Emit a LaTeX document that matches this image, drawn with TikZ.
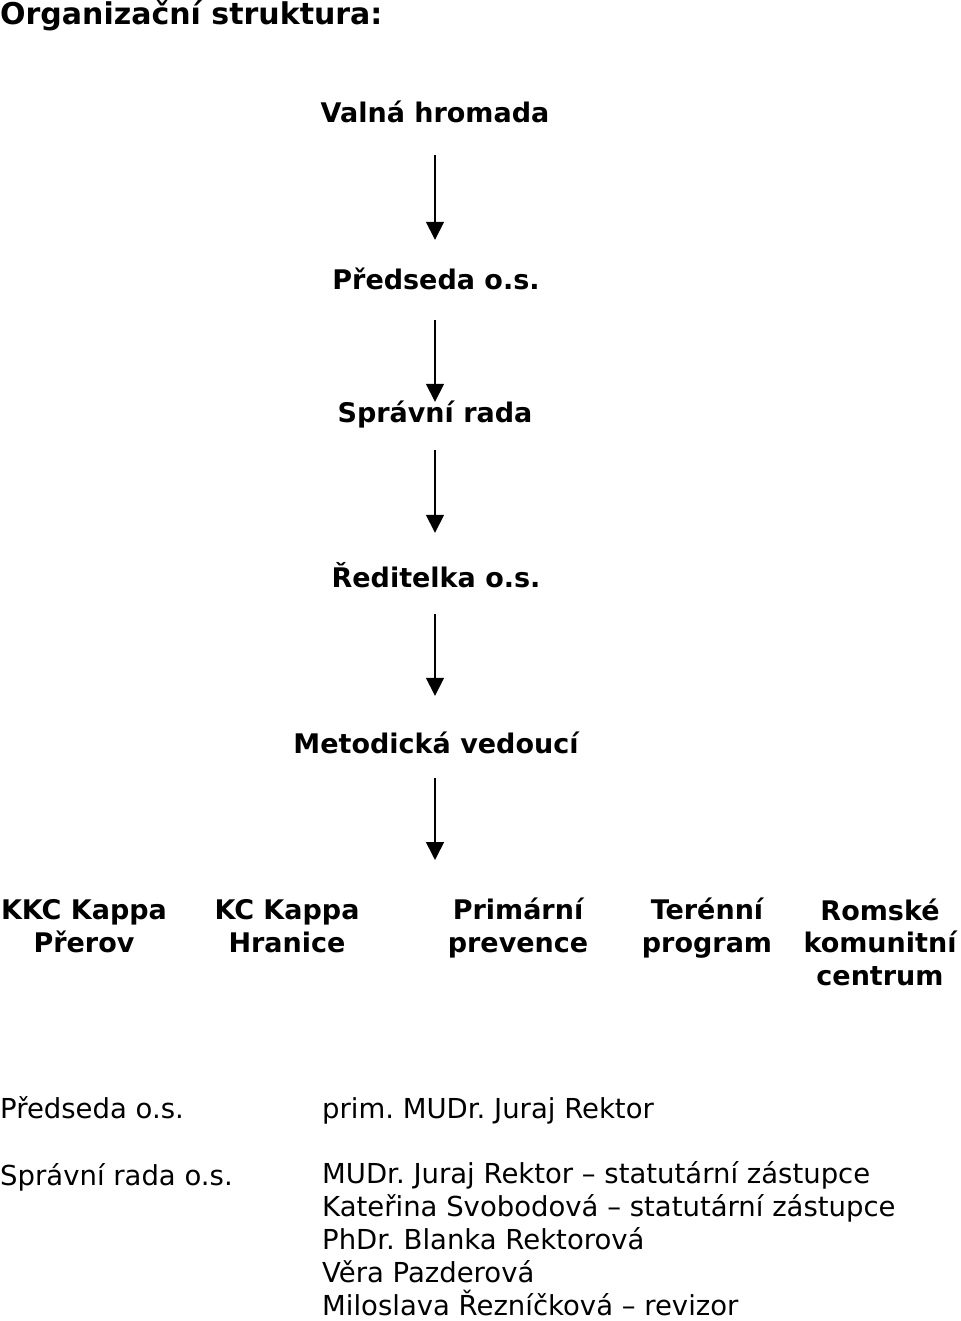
\documentclass[tikz,border=0pt]{standalone}
\usepackage{fontspec}
\setmainfont{DejaVu Sans}
\usetikzlibrary{arrows.meta}
\frenchspacing
\tikzset{
  title/.style={font=\fontsize{30}{36}\selectfont\bfseries, anchor=base west, inner sep=0pt},
  chain/.style={font=\fontsize{27}{32}\selectfont\bfseries, anchor=base, inner sep=0pt, text height=20pt, text depth=6pt},
  unit/.style={font=\fontsize{27}{32.5}\selectfont\bfseries, anchor=base, inner sep=0pt, align=center},
  info/.style={font=\fontsize{27.5}{33}\selectfont, anchor=base west, inner sep=0pt, align=left},
  arr/.style={-{Triangle[width=18pt,length=18pt]}, line width=1.6pt},
}
\begin{document}
\begin{tikzpicture}[x=1pt,y=-1pt]
\useasboundingbox (0,0) rectangle (960,1321);
\node[title] (t) at (0,25) {Organizační struktura:};
\node[chain] (vh) at (435,123) {Valná hromada};
\node[chain] (pr) at (436,290) {Předseda o.s.};
\node[chain] (sr) at (435,422) {Správní rada};
\node[chain] (re) at (436,587) {Ředitelka o.s.};
\node[chain] (mv) at (436,753) {Metodická vedoucí};
\coordinate (end5) at (435,860);
\draw[arr, shorten <=26pt, shorten >=30pt] (vh.south -| 435,0) -- (pr.north -| 435,0);
\draw[arr, shorten <=24pt, shorten >=0pt] (pr.south -| 435,0) -- (sr.north -| 435,0);
\draw[arr, shorten <=22pt, shorten >=34pt] (sr.south -| 435,0) -- (re.north -| 435,0);
\draw[arr, shorten <=21pt, shorten >=37pt] (re.south -| 435,0) -- (mv.north -| 435,0);
\draw[arr, shorten <=19pt] (mv.south -| 435,0) -- (end5);
% anchor=base of a multi-line node lies on its last line
\node[unit] (u1) at (84,952) {KKC Kappa\\Přerov};
\node[unit] (u2) at (287,952) {KC Kappa\\Hranice};
\node[unit] (u3) at (518,952) {Primární\\prevence};
\node[unit] (u4) at (707,952) {Terénní\\program};
\node[unit] (u5) at (880,985) {Romské\\komunitní\\centrum};
\node[info] (l1) at (0,1118) {Předseda o.s.};
\node[info] (l2) at (0,1185) {Správní rada o.s.};
\node[info] (r1) at (322,1118) {prim. MUDr. Juraj Rektor};
\node[info] (r2) at (322,1315) {MUDr. Juraj Rektor – statutární zástupce\\Kateřina Svobodová – statutární zástupce\\PhDr. Blanka Rektorová\\Věra Pazderová\\Miloslava Řezníčková – revizor};
\end{tikzpicture}
\end{document}
